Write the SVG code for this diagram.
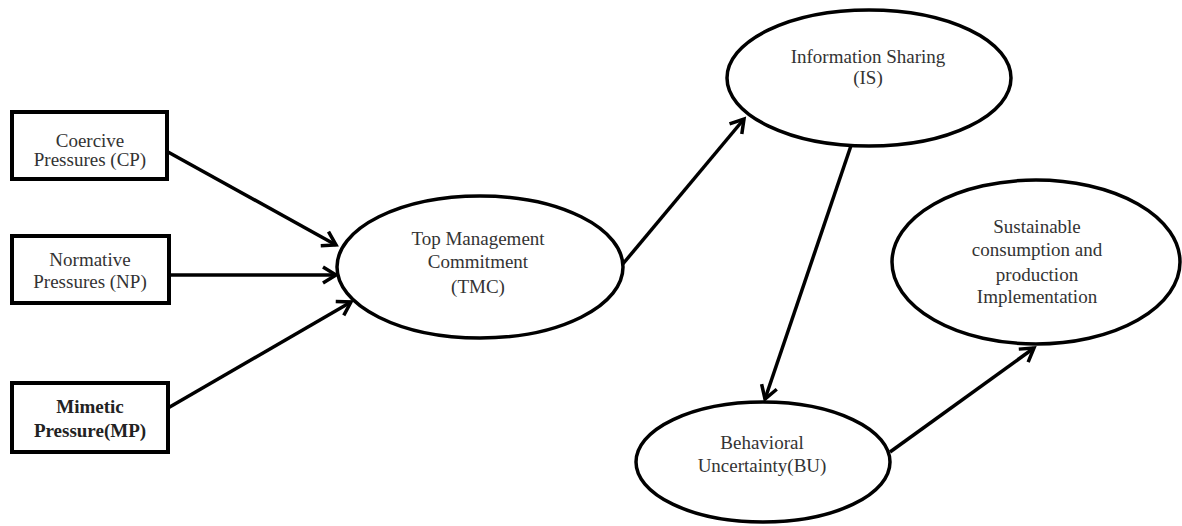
<svg xmlns="http://www.w3.org/2000/svg" width="1182" height="526" viewBox="0 0 1182 526">
<style>
.box{fill:#fff;stroke:#000;stroke-width:4}
.ell{fill:#fff;stroke:#000;stroke-width:3.5}
.t{font-family:"Liberation Serif","Times New Roman",serif;font-size:19px;fill:#333;text-anchor:middle}
.b{font-weight:bold;fill:#222}
.c{stroke:#000;stroke-width:3.5;fill:none;marker-end:url(#ah)}
</style>
<defs>
<marker id="ah" markerUnits="userSpaceOnUse" viewBox="-16 -10 20 20" refX="0" refY="0" markerWidth="20" markerHeight="20" orient="auto">
<path d="M-13,-8 L0,0 L-13,8" fill="none" stroke="#000" stroke-width="3.5" stroke-linejoin="miter"/>
</marker>
</defs>
<rect width="1182" height="526" fill="#fff"/>
<g id="connectors">
<line class="c" x1="168" y1="152" x2="336" y2="245"/>
<line class="c" x1="170" y1="275" x2="336" y2="275"/>
<line class="c" x1="168" y1="408" x2="351" y2="302"/>
<line class="c" x1="622" y1="265" x2="744" y2="119"/>
<line class="c" x1="857" y1="128" x2="765" y2="399"/>
<line class="c" x1="890" y1="452" x2="1034" y2="348"/>
</g>
<g id="CP">
<rect class="box" x="12" y="112" width="155" height="67"/>
<text class="t" x="90" y="147">Coercive</text>
<text class="t" x="90" y="166">Pressures (CP)</text>
</g>
<g id="NP">
<rect class="box" x="12" y="236" width="157" height="67"/>
<text class="t" x="90" y="266">Normative</text>
<text class="t" x="90" y="288">Pressures (NP)</text>
</g>
<g id="MP">
<rect class="box" x="12" y="383" width="156" height="69"/>
<text class="t b" x="90" y="413">Mimetic</text>
<text class="t b" x="90" y="437">Pressure(MP)</text>
</g>
<g id="TMC">
<ellipse class="ell" cx="480" cy="267" rx="143" ry="71"/>
<text class="t" x="478" y="245">Top Management</text>
<text class="t" x="478" y="268">Commitment</text>
<text class="t" x="478" y="293">(TMC)</text>
</g>
<g id="IS">
<ellipse class="ell" cx="869" cy="78" rx="142" ry="68"/>
<text class="t" x="868" y="63">Information Sharing</text>
<text class="t" x="868" y="84">(IS)</text>
</g>
<g id="SCP">
<ellipse class="ell" cx="1036" cy="262" rx="144" ry="82"/>
<text class="t" x="1037" y="233">Sustainable</text>
<text class="t" x="1037" y="256">consumption and</text>
<text class="t" x="1037" y="281">production</text>
<text class="t" x="1037" y="303">Implementation</text>
</g>
<g id="BU">
<ellipse class="ell" cx="763" cy="462" rx="127" ry="60"/>
<text class="t" x="762" y="449">Behavioral</text>
<text class="t" x="762" y="472">Uncertainty(BU)</text>
</g>
</svg>
